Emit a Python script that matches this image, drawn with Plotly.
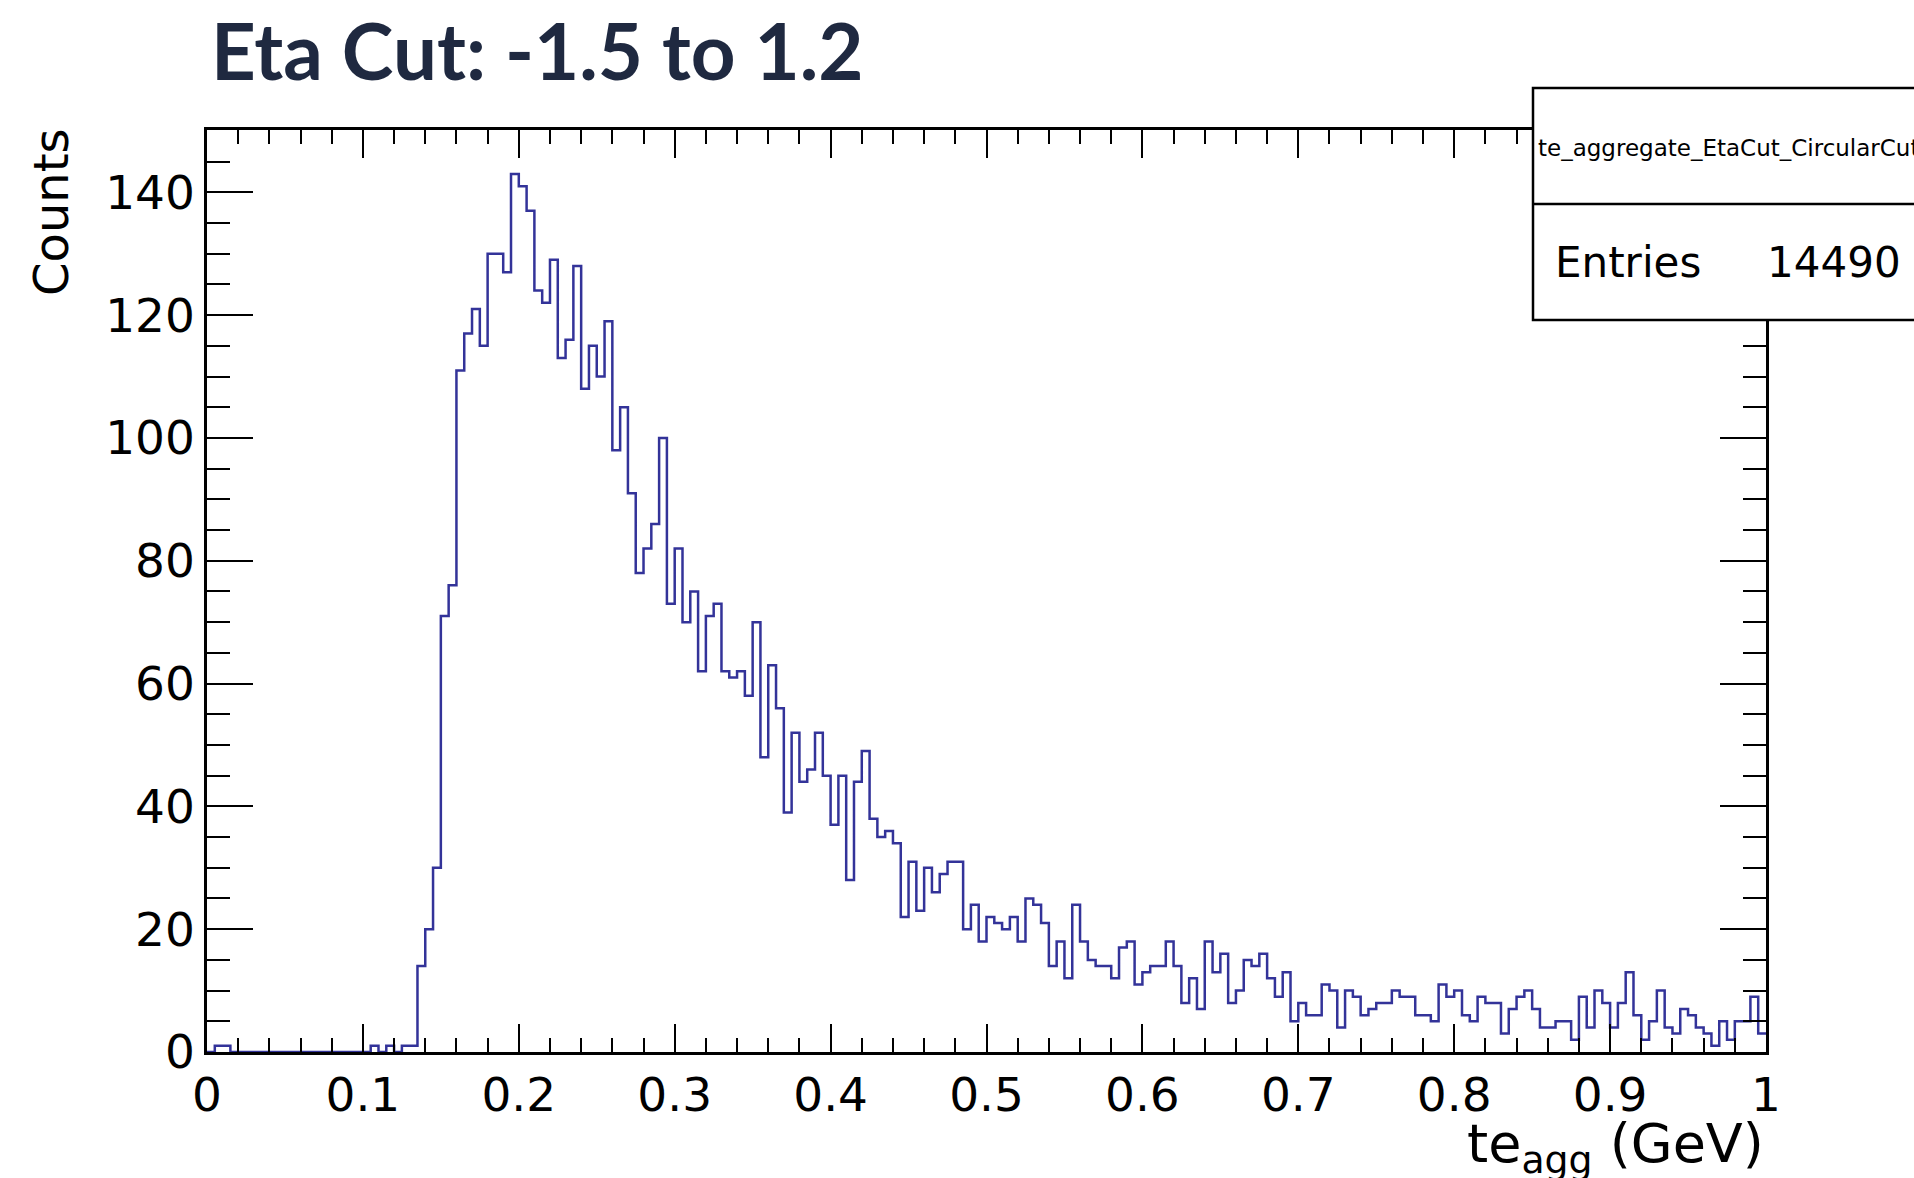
import numpy as np
import plotly.graph_objects as go

# Histogram definition: 200 bins on [0, 1] GeV
bin_lo = 0.0
bin_width = 0.005
counts = [
    0, 1, 1, 0, 0, 0, 0, 0, 0, 0,
    0, 0, 0, 0, 0, 0, 0, 0, 0, 0,
    0, 1, 0, 1, 0, 1, 1, 14, 20, 30,
    71, 76, 111, 117, 121, 115, 130, 130, 127, 143,
    141, 137, 124, 122, 129, 113, 116, 128, 108, 115,
    110, 119, 98, 105, 91, 78, 82, 86, 100, 73,
    82, 70, 75, 62, 71, 73, 62, 61, 62, 58,
    70, 48, 63, 56, 39, 52, 44, 46, 52, 45,
    37, 45, 28, 44, 49, 38, 35, 36, 34, 22,
    31, 23, 30, 26, 29, 31, 31, 20, 24, 18,
    22, 21, 20, 22, 18, 25, 24, 21, 14, 18,
    12, 24, 18, 15, 14, 14, 12, 17, 18, 11,
    13, 14, 14, 18, 14, 8, 12, 7, 18, 13,
    16, 8, 10, 15, 14, 16, 12, 9, 13, 5,
    8, 6, 6, 11, 10, 4, 10, 9, 6, 7,
    8, 8, 10, 9, 9, 6, 6, 5, 11, 9,
    10, 6, 5, 9, 8, 8, 3, 7, 9, 10,
    7, 4, 4, 5, 5, 2, 9, 4, 10, 8,
    4, 8, 13, 6, 2, 5, 10, 4, 3, 7,
    6, 4, 3, 1, 5, 2, 5, 5, 9, 3,
]
x_ticks = [0, 0.1, 0.2, 0.3, 0.4, 0.5, 0.6, 0.7, 0.8, 0.9, 1]
y_ticks = [0, 20, 40, 60, 80, 100, 120, 140]

hist_name = "te_aggregate_EtaCut_CircularCut"
n_entries = 14490
title_text = "Eta Cut: -1.5 to 1.2"

# Frame geometry in pixels
W, H = 1914, 1178
L, R, T, B = 207, 1766, 130, 1052


def px_x(p):
    return (p - L) / (R - L)


def px_y(p):
    return (B - p) / (B - T)


edges = bin_lo + bin_width * np.arange(len(counts) + 1)
y_steps = list(counts) + [counts[-1]]
y_max = 1.05 * max(counts)

line_col = "#333399"
tick_font = dict(family="DejaVu Sans", size=47, color="black")

fig = go.Figure()
fig.add_trace(go.Scatter(
    x=edges, y=y_steps, mode="lines", line_shape="hv",
    line=dict(color=line_col, width=2.5), showlegend=False, hoverinfo="skip",
))

fig.update_layout(
    width=W, height=H,
    margin=dict(l=L, r=W - R, t=T, b=H - B),
    paper_bgcolor="white", plot_bgcolor="white",
    xaxis=dict(
        range=[0, 1], tickmode="array", tickvals=x_ticks,
        ticktext=[f"{v:g}" for v in x_ticks],
        ticks="inside", ticklen=28, tickwidth=2, tickcolor="black",
        showline=True, linecolor="black", linewidth=2.5, mirror="ticks",
        showgrid=False, zeroline=False, tickfont=tick_font,
        minor=dict(tick0=0, dtick=0.02, ticks="inside", ticklen=14,
                   tickwidth=2, tickcolor="black", showgrid=False),
    ),
    yaxis=dict(
        range=[0, y_max], tickmode="array", tickvals=y_ticks,
        ticks="inside", ticklen=46, tickwidth=2, tickcolor="black",
        showline=True, linecolor="black", linewidth=2.5, mirror="ticks",
        showgrid=False, zeroline=False, tickfont=tick_font,
        minor=dict(tick0=0, dtick=5, ticks="inside", ticklen=23,
                   tickwidth=2, tickcolor="black", showgrid=False),
    ),
)

# Statistics box
box_x0, box_x1, box_y0, box_y1, box_mid = 1533, 1940, 88, 320, 204
fig.add_shape(type="rect", xref="paper", yref="paper", layer="above",
              x0=px_x(box_x0), x1=px_x(box_x1), y0=px_y(box_y1), y1=px_y(box_y0),
              line=dict(color="black", width=2.5), fillcolor="white")
fig.add_shape(type="line", xref="paper", yref="paper", layer="above",
              x0=px_x(box_x0), x1=px_x(box_x1), y0=px_y(box_mid), y1=px_y(box_mid),
              line=dict(color="black", width=2.5))

annotations = [
    dict(text=f"<b>{title_text}</b>", x=px_x(209), y=px_y(50),
         xanchor="left", yanchor="middle",
         font=dict(family="Lato", size=78, color="#1f2940")),
    dict(text="Counts", x=px_x(51), y=px_y(212), textangle=-90,
         xanchor="center", yanchor="middle",
         font=dict(family="DejaVu Sans", size=48, color="black")),
    dict(text="te<sub>agg</sub> (GeV)", x=1.0, y=px_y(1110),
         xanchor="right", yanchor="top",
         font=dict(family="DejaVu Sans", size=54, color="black")),
    dict(text=hist_name, x=px_x(1536), y=px_y(148),
         xanchor="left", yanchor="middle",
         font=dict(family="DejaVu Sans", size=23, color="black")),
    dict(text="Entries", x=px_x(1553), y=px_y(262),
         xanchor="left", yanchor="middle",
         font=dict(family="DejaVu Sans", size=42, color="black")),
    dict(text=f"{n_entries}", x=px_x(1903), y=px_y(262),
         xanchor="right", yanchor="middle",
         font=dict(family="DejaVu Sans", size=42, color="black")),
]
for a in annotations:
    a.update(xref="paper", yref="paper", showarrow=False)
fig.update_layout(annotations=annotations)

fig.write_html("out.html")
